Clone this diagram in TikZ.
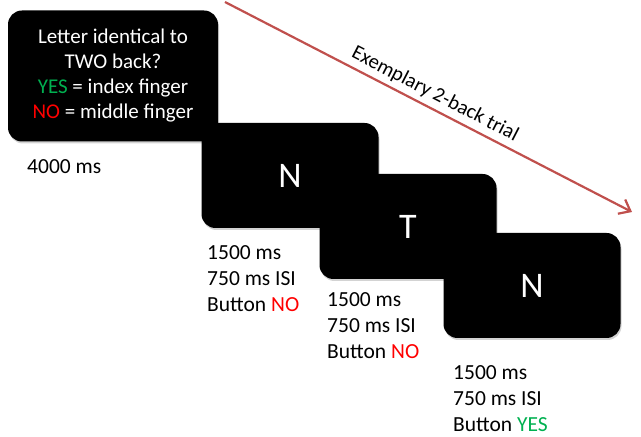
\documentclass[tikz,border=0pt]{standalone}
\usepackage{fontspec}
\setmainfont{Carlito}
\usetikzlibrary{positioning,arrows.meta,shadows}
\definecolor{arrowred}{RGB}{192,80,77}
\definecolor{yesgreen}{RGB}{0,176,80}
\definecolor{nored}{RGB}{255,0,0}
\begin{document}
\begin{tikzpicture}[x=1pt, y=1pt,
	screen/.style = {fill=black, rounded corners=14pt, minimum width=177pt, minimum height=105pt, text=white, font=\fontsize{36}{40}\selectfont, drop shadow={opacity=0.35, shadow xshift=1pt, shadow yshift=-2pt}},
	info/.style = {anchor=north west, inner sep=0pt, align=left, font=\fontsize{21.5}{26}\selectfont}]
	\useasboundingbox (0,0) rectangle (641,437);
	\node[screen, minimum width=210pt, minimum height=131pt, align=center, font=\fontsize{21}{25}\selectfont] (cue) at (113,361) {Letter identical to\\TWO back?\\\textcolor{yesgreen}{YES} = index finger\\\textcolor{nored}{NO} = middle finger};
	\node[screen] (n1) at (290,261.5) {N};
	\node[screen] (t) at ([shift={(118,-51)}]n1) {T};
	\node[screen] (n2) at ([shift={(124,-59)}]t) {N};
	\node[info] (cuetime) at (27,278) {4000 ms};
	\node[info] (n1time) at (207,191.5) {1500 ms\\750 ms ISI\\Button \textcolor{nored}{NO}};
	\node[info] (ttime) at (327,145) {1500 ms\\750 ms ISI\\Button \textcolor{nored}{NO}};
	\node[info] (n2time) at (453,71.5) {1500 ms\\750 ms ISI\\Button \textcolor{yesgreen}{YES}};
	\coordinate (start) at (225,435);
	\coordinate (end) at (632,225);
	\draw[arrowred, line width=2.2pt, -{Straight Barb[length=10pt, width=16pt]}] (start) -- (end)
		node[pos=0.5, above=1pt, sloped, text=black, font=\fontsize{20.5}{24}\selectfont] (trial) {Exemplary 2-back trial};
\end{tikzpicture}
\end{document}
